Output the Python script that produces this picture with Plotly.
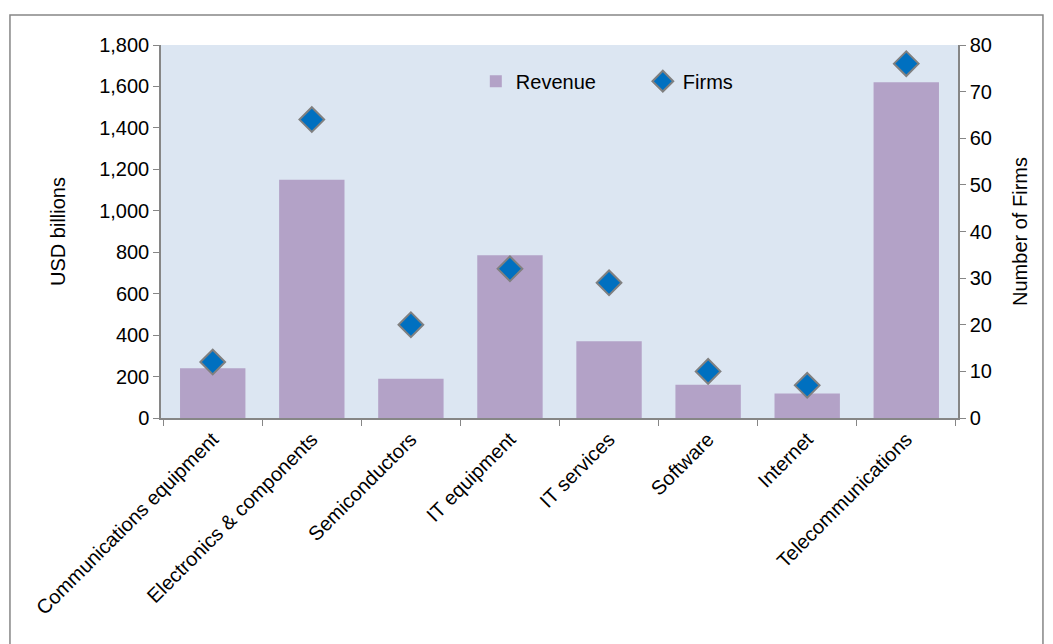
import plotly.graph_objects as go

categories = ["Communications equipment", "Electronics & components", "Semiconductors",
              "IT equipment", "IT services", "Software", "Internet", "Telecommunications"]
revenue = [240, 1150, 190, 785, 370, 160, 118, 1620]
firms = [12, 64, 20, 32, 29, 10, 7, 76]

axis_grey = "#868686"
font = dict(family="Liberation Sans, Arial, sans-serif", size=20, color="#000000")

fig = go.Figure()
fig.add_trace(go.Bar(
    x=categories, y=revenue, name="Revenue",
    marker=dict(color="#B3A2C7", line=dict(width=0)),
    yaxis="y",
))
fig.add_trace(go.Scatter(
    x=categories, y=firms, name="Firms", mode="markers",
    marker=dict(symbol="diamond", size=19, color="#0070C0",
                line=dict(color="#808080", width=2)),
    yaxis="y2",
))

fig.update_layout(
    width=1053, height=644,
    margin=dict(l=161, r=95, t=45, b=226),
    paper_bgcolor="white",
    plot_bgcolor="#DCE6F2",
    font=font,
    bargap=0.34,
    showlegend=True,
    legend=dict(orientation="h", x=0.395, y=0.903, xanchor="left", yanchor="middle",
                bgcolor="rgba(0,0,0,0)", font=dict(size=20),
                entrywidth=122, entrywidthmode="pixels"),
    xaxis=dict(
        type="category", tickangle=-45, tickson="boundaries",
        ticks="outside", ticklen=6, tickcolor=axis_grey,
        showline=True, linecolor=axis_grey, linewidth=1.5,
        showgrid=False, tickfont=dict(size=20),
    ),
    yaxis=dict(
        range=[0, 1800], dtick=200, tickformat=",",
        ticks="outside", ticklen=6, tickcolor=axis_grey,
        showline=True, linecolor=axis_grey, linewidth=1.5,
        showgrid=False, zeroline=False,
        title=dict(text="USD billions", standoff=28, font=dict(size=20)),
        tickfont=dict(size=20),
    ),
    yaxis2=dict(
        range=[0, 80], dtick=10, overlaying="y", side="right",
        ticks="outside", ticklen=6, tickcolor=axis_grey,
        showline=True, linecolor=axis_grey, linewidth=1.5,
        showgrid=False, zeroline=False,
        title=dict(text="Number of Firms", standoff=22, font=dict(size=20)),
        tickfont=dict(size=20),
    ),
    # outer chart frame
    shapes=[dict(type="rect", xref="paper", yref="paper",
                 x0=-0.1895, x1=1.1066, y0=-0.7, y1=1.0804,
                 line=dict(color="#868686", width=1.5), fillcolor="rgba(0,0,0,0)",
                 layer="below")],
)

fig.write_html("out.html")
